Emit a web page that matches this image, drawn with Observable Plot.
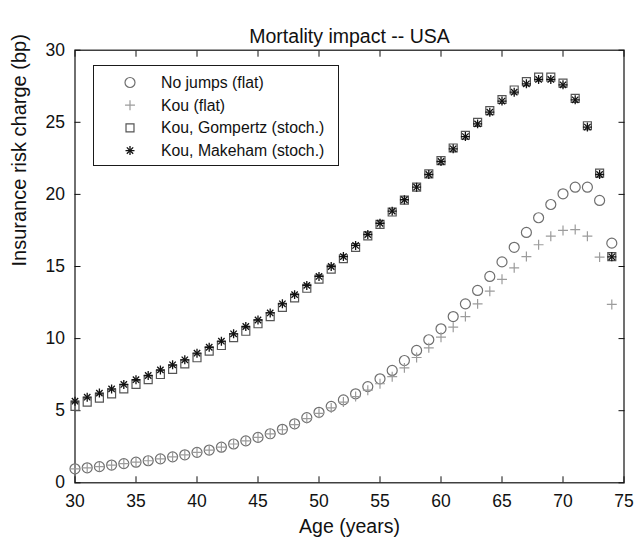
<!DOCTYPE html>
<html>
<head>
<meta charset="utf-8">
<script src="https://cdn.jsdelivr.net/npm/d3@7"></script>
<script src="https://cdn.jsdelivr.net/npm/@observablehq/plot@0.6"></script>
<style>
  body { margin: 0; background: #fff; font-family: "Liberation Sans", Arial, Helvetica, sans-serif; }
  #wrap { position: relative; width: 634px; height: 548px; }
  #legend { position: absolute; left: 93px; top: 65px; width: 246px; height: 101px; border: 1px solid #1a1a1a; background: #fff; box-sizing: border-box; }
  #legend svg { position: absolute; left: 0; top: 0; }
</style>
</head>
<body>
<div id="wrap"><div id="legend"></div></div>
<script>
const titleText = "Mortality impact -- USA";
const xLabel = "Age (years)";
const yLabel = "Insurance risk charge (bp)";
const xTicks = [30, 35, 40, 45, 50, 55, 60, 65, 70, 75];
const yTicks = [0, 5, 10, 15, 20, 25, 30];
const seriesNames = ["No jumps (flat)", "Kou (flat)", "Kou, Gompertz (stoch.)", "Kou, Makeham (stoch.)"];

const ages = [30,31,32,33,34,35,36,37,38,39,40,41,42,43,44,45,46,47,48,49,50,51,52,53,54,55,56,57,58,59,60,61,62,63,64,65,66,67,68,69,70,71,72,73,74];

const noJumpsFlat = [0.97,1.04,1.12,1.23,1.33,1.43,1.53,1.66,1.80,1.94,2.11,2.27,2.47,2.69,2.91,3.15,3.40,3.71,4.09,4.52,4.89,5.30,5.75,6.17,6.67,7.21,7.79,8.48,9.18,9.92,10.68,11.53,12.41,13.34,14.31,15.32,16.33,17.36,18.38,19.30,20.04,20.50,20.50,19.58,16.62];

const kouFlat = [0.97,1.04,1.12,1.23,1.33,1.43,1.53,1.66,1.80,1.94,2.11,2.27,2.47,2.69,2.91,3.15,3.39,3.68,4.04,4.45,4.82,5.19,5.60,5.98,6.42,6.87,7.36,7.97,8.69,9.36,10.10,10.79,11.53,12.41,13.29,14.11,14.91,15.69,16.51,17.10,17.50,17.56,17.10,15.65,12.37];

const kouGompertz = [5.30,5.59,5.87,6.17,6.51,6.82,7.15,7.51,7.86,8.25,8.67,9.13,9.52,10.06,10.51,11.03,11.53,12.16,12.83,13.49,14.13,14.82,15.54,16.32,17.12,17.92,18.78,19.60,20.50,21.42,22.34,23.22,24.10,24.99,25.81,26.58,27.24,27.82,28.13,28.13,27.72,26.66,24.76,21.47,15.69];

const kouMakeham = [5.66,5.94,6.22,6.51,6.82,7.15,7.44,7.83,8.18,8.53,8.99,9.40,9.82,10.33,10.84,11.29,11.78,12.41,13.05,13.69,14.31,15.00,15.69,16.46,17.22,18.00,18.84,19.63,20.50,21.38,22.28,23.16,24.01,24.89,25.70,26.47,27.09,27.67,27.97,27.97,27.60,26.56,24.67,21.38,15.67];

const toRows = (vals) => ages.map((a, i) => ({age: a, v: vals[i]}));
const dNo = toRows(noJumpsFlat), dKou = toRows(kouFlat), dGom = toRows(kouGompertz), dMak = toRows(kouMakeham);

const FONT = '"Liberation Sans", Arial, Helvetica, sans-serif';
const styles = [
  {symbol: "circle", r: 5, stroke: "#6f6f6f", strokeWidth: 1.2},
  {symbol: "plus", r: 3.3, stroke: "#9c9c9c", strokeWidth: 1.2},
  {symbol: "square", r: 4.5, stroke: "#555555", strokeWidth: 1.2},
  {symbol: "plus", r: 3.0, stroke: "#111111", strokeWidth: 1.3},
  {symbol: "times", r: 3.0, stroke: "#111111", strokeWidth: 1.3}
];
const dotOpts = (s) => ({x: "age", y: "v", symbol: s.symbol, r: s.r, stroke: s.stroke, strokeWidth: s.strokeWidth, fill: "none"});

const chart = Plot.plot({
  width: 634,
  height: 548,
  marginLeft: 74.5,
  marginRight: 10.5,
  marginTop: 49.7,
  marginBottom: 65.7,
  style: {fontFamily: FONT, fontSize: "17.5px", color: "#111", background: "#fff"},
  x: {domain: [30, 75]},
  y: {domain: [0, 30]},
  marks: [
    Plot.axisX({anchor: "bottom", ticks: xTicks, tickSize: -6, tickPadding: 18, label: null, fontSize: 17.5}),
    Plot.axisX({anchor: "top", ticks: xTicks, tickSize: -6, tickFormat: () => "", label: null}),
    Plot.axisY({anchor: "left", ticks: yTicks, tickSize: -6, tickPadding: 16, label: null, fontSize: 17.5}),
    Plot.axisY({anchor: "right", ticks: yTicks, tickSize: -6, tickFormat: () => "", label: null}),
    Plot.frame({stroke: "#111", strokeWidth: 1.2}),
    Plot.dot(dNo, dotOpts(styles[0])),
    Plot.dot(dKou, dotOpts(styles[1])),
    Plot.dot(dGom, dotOpts(styles[2])),
    Plot.dot(dMak, dotOpts(styles[3])),
    Plot.dot(dMak, dotOpts(styles[4])),
    Plot.text([titleText], {frameAnchor: "top", dy: -21, fontSize: 19.5, fill: "#111"}),
    Plot.text([xLabel], {frameAnchor: "bottom", dy: 50, fontSize: 19.5, fill: "#111"}),
    Plot.text([yLabel], {frameAnchor: "left", dx: -55, rotate: -90, fontSize: 20, fill: "#111"})
  ]
});
document.getElementById("wrap").prepend(chart);

// Legend (HTML box with SVG symbols)
const legend = d3.select("#legend");
const lsvg = legend.append("svg").attr("width", 246).attr("height", 101);
const rowsY = [16.5, 39.2, 61.9, 84.6];
const legendSyms = [[styles[0]], [styles[1]], [styles[2]], [styles[3], styles[4]]];
const symMap = {circle: d3.symbolCircle, plus: d3.symbolPlus, square: d3.symbolSquare, times: d3.symbolTimes};
seriesNames.forEach((name, i) => {
  const g = lsvg.append("g").attr("transform", `translate(36,${rowsY[i]})`);
  legendSyms[i].forEach(s => {
    g.append("path")
      .attr("d", d3.symbol(symMap[s.symbol], Math.PI * s.r * s.r)())
      .attr("fill", "none").attr("stroke", s.stroke).attr("stroke-width", s.strokeWidth);
  });
  lsvg.append("text").attr("x", 67).attr("y", rowsY[i]).attr("dy", "0.35em")
    .attr("font-family", FONT).attr("font-size", 15.8).attr("fill", "#111").text(name);
});
</script>
</body>
</html>
